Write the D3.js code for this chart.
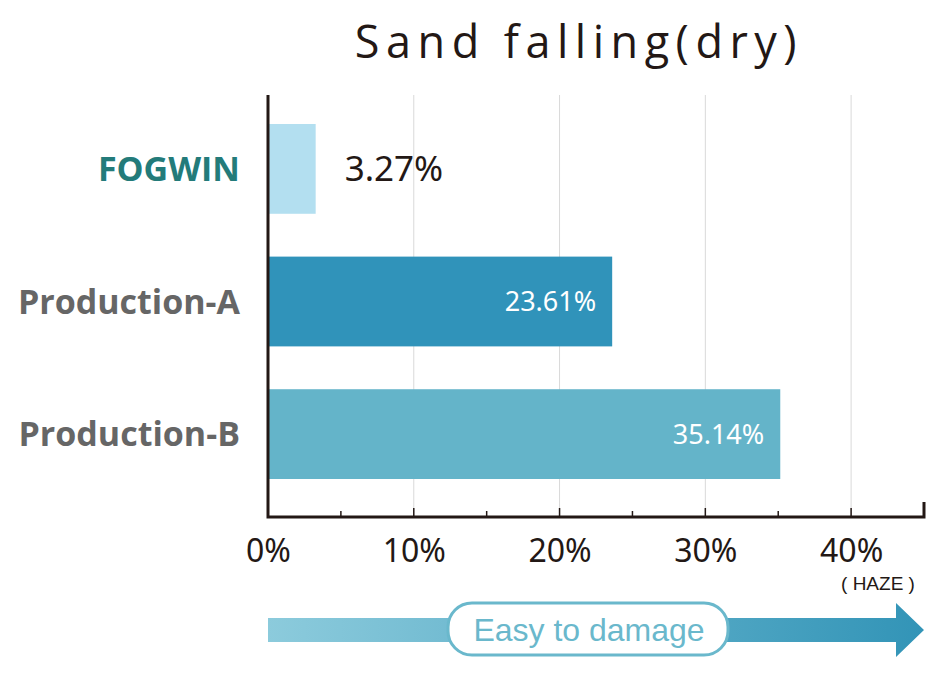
<!DOCTYPE html>
<meta charset="utf-8">
<style>
body { margin: 0; background: #fff; }
svg { display: block; }
.title { fill: #231815; font-family: "Open Sans", sans-serif; font-size: 45px; letter-spacing: 6.5px; }
.cat { font-family: "Open Sans", sans-serif; font-weight: 700; font-size: 34px; }
.axis--x path { display: none; }
.axis--x text { fill: #231815; font-family: "Noto Sans", sans-serif; font-size: 32px; }
.grid line { stroke: #d9d9d9; stroke-width: 1; }
.val { font-family: "Noto Sans", sans-serif; }
</style>
<svg width="945" height="680"></svg>
<script src="https://d3js.org/d3.v7.min.js"></script>
<script>

var categories = ["FOGWIN", "Production-A", "Production-B"],
    values = [3.27, 23.61, 35.14],
    barColors = ["#b3dff0", "#3093ba", "#64b4c9"],
    labelColors = ["#237b7a", "#666666", "#666666"],
    ticks = [0, 10, 20, 30, 40],
    minorTicks = [5, 15, 25, 35];

var svg = d3.select("svg"),
    margin = {top: 95, right: 21, bottom: 163, left: 268},
    width = +svg.attr("width") - margin.left - margin.right,
    height = +svg.attr("height") - margin.top - margin.bottom;

var x = d3.scaleLinear().domain([0, 45]).range([0, width]),
    y = d3.scaleBand().domain(categories).range([29, 384]).paddingInner(0.323).paddingOuter(0);

var g = svg.append("g")
    .attr("transform", "translate(" + margin.left + "," + margin.top + ")");

svg.append("text")
    .attr("class", "title")
    .attr("x", 579)
    .attr("y", 58)
    .attr("text-anchor", "middle")
    .text("Sand falling(dry)");

// grid
g.append("g")
    .attr("class", "grid")
  .selectAll("line")
  .data(ticks.slice(1))
  .enter().append("line")
    .attr("x1", function(d) { return x(d); })
    .attr("x2", function(d) { return x(d); })
    .attr("y1", 0)
    .attr("y2", height);

// bars
g.selectAll(".bar")
  .data(values)
  .enter().append("rect")
    .attr("class", "bar")
    .attr("x", 0)
    .attr("y", function(d, i) { return y(categories[i]); })
    .attr("width", function(d) { return x(d); })
    .attr("height", y.bandwidth())
    .attr("fill", function(d, i) { return barColors[i]; });

// category labels
g.selectAll(".cat")
  .data(categories)
  .enter().append("text")
    .attr("class", "cat")
    .attr("x", -28)
    .attr("y", function(d) { return y(d) + y.bandwidth() / 2; })
    .attr("dy", "0.36em")
    .attr("text-anchor", "end")
    .attr("fill", function(d, i) { return labelColors[i]; })
    .text(function(d) { return d; });

// value labels
g.selectAll(".val")
  .data(values)
  .enter().append("text")
    .attr("class", "val")
    .attr("x", function(d, i) { return i === 0 ? x(d) + 29 : x(d) - 16; })
    .attr("y", function(d, i) { return y(categories[i]) + y.bandwidth() / 2; })
    .attr("dy", "0.36em")
    .attr("text-anchor", function(d, i) { return i === 0 ? "start" : "end"; })
    .attr("fill", function(d, i) { return i === 0 ? "#231815" : "#fff"; })
    .style("font-size", function(d, i) { return i === 0 ? "35px" : "27px"; })
    .text(function(d) { return d.toFixed(2) + "%"; });

// x axis
var xa = g.append("g")
    .attr("class", "axis axis--x")
    .attr("transform", "translate(0," + height + ")")
    .call(d3.axisBottom(x).tickValues(ticks).tickSize(0).tickPadding(18).tickFormat(function(d) { return d + "%"; }));

xa.selectAll(".tick text").attr("dy", "0.85em");

g.append("g")
  .selectAll("line")
  .data(minorTicks.concat(ticks.slice(1)))
  .enter().append("line")
    .attr("x1", function(d) { return x(d); })
    .attr("x2", function(d) { return x(d); })
    .attr("y1", height)
    .attr("y2", function(d) { return height - (d % 10 === 0 ? 9 : 6); })
    .attr("stroke", "#231815")
    .attr("stroke-width", 1.5);

g.append("path")
    .attr("d", "M0,0V" + height + "H" + x(45) + "V" + (height - 15))
    .attr("fill", "none")
    .attr("stroke", "#231815")
    .attr("stroke-width", 3);

svg.append("text")
    .attr("x", 878)
    .attr("y", 590)
    .attr("text-anchor", "middle")
    .attr("fill", "#231815")
    .style("font-family", "'Liberation Sans', sans-serif")
    .style("font-size", "19px")
    .text("( HAZE )");

// arrow
var defs = svg.append("defs");
var grad = defs.append("linearGradient").attr("id", "arrowGrad");
grad.append("stop").attr("offset", "0%").attr("stop-color", "#8ccbdc");
grad.append("stop").attr("offset", "100%").attr("stop-color", "#3294b7");

var ax0 = margin.left, ax1 = margin.left + x(45), ay = 630;
svg.append("path")
    .attr("d", "M" + ax0 + "," + (ay - 12) + "H" + (ax1 - 28) + "V" + (ay - 27) +
      "L" + ax1 + "," + ay + "L" + (ax1 - 28) + "," + (ay + 27) + "V" + (ay + 12) + "H" + ax0 + "Z")
    .attr("fill", "url(#arrowGrad)");

svg.append("rect")
    .attr("x", 448)
    .attr("y", 603)
    .attr("width", 280)
    .attr("height", 52)
    .attr("rx", 24)
    .attr("fill", "#fff")
    .attr("stroke", "#6ab8cc")
    .attr("stroke-width", 3);

svg.append("text")
    .attr("x", 589)
    .attr("y", 629)
    .attr("dy", "0.36em")
    .attr("text-anchor", "middle")
    .attr("fill", "#6ab8cc")
    .style("font-family", "'Liberation Sans', sans-serif")
    .style("font-size", "32px")
    .text("Easy to damage");

</script>
